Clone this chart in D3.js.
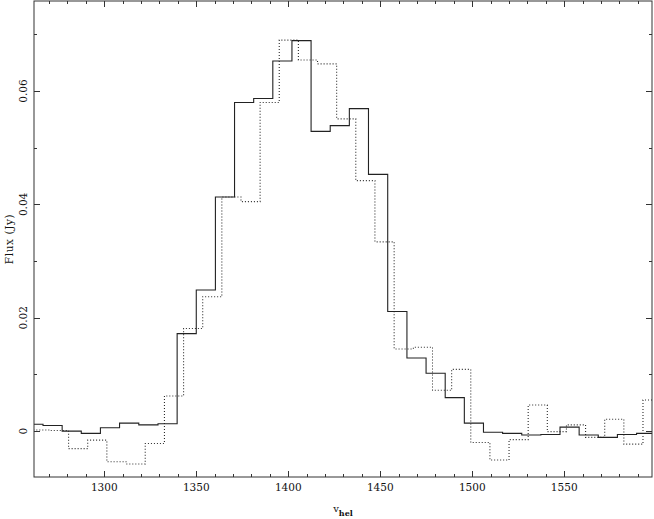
<!DOCTYPE html>
<html>
<head>
<meta charset="utf-8">
<script src="https://cdn.jsdelivr.net/npm/d3@7"></script>
<style>
  body { margin: 0; background: #fff; }
  svg { display: block; }
  text { font-family: "DejaVu Serif", serif; fill: #111; }
</style>
</head>
<body>
<script>
// channel centres (km/s) and flux (Jy)
const solidVel = [1261.5, 1271.9, 1282.3, 1292.7, 1303.1, 1313.5, 1324.0, 1334.4, 1344.8, 1355.2,
  1365.6, 1376.0, 1386.4, 1396.8, 1407.2, 1417.6, 1428.0, 1438.4, 1448.8, 1459.3,
  1469.7, 1480.1, 1490.5, 1500.9, 1511.3, 1521.7, 1532.1, 1542.5, 1552.9, 1563.3,
  1573.7, 1584.1, 1594.5];
const solidFlux = [0.0012, 0.0010, 0.0000, -0.0004, 0.0006, 0.0014, 0.0011, 0.0013, 0.0172, 0.0249,
  0.0413, 0.0580, 0.0587, 0.0653, 0.0689, 0.0529, 0.0539, 0.0569, 0.0453, 0.0211,
  0.0129, 0.0102, 0.0059, 0.0014, -0.0002, -0.0004, -0.0007, -0.0006, 0.0007, -0.0007,
  -0.0011, -0.0006, -0.0004];

const dottedVel = [1265.0, 1275.4, 1285.8, 1296.2, 1306.6, 1317.0, 1327.5, 1337.9, 1348.3, 1358.7,
  1369.1, 1379.5, 1389.9, 1400.3, 1410.7, 1421.1, 1431.5, 1441.9, 1452.3, 1462.8,
  1473.2, 1483.6, 1494.0, 1504.4, 1514.8, 1525.2, 1535.6, 1546.0, 1556.4, 1566.8,
  1577.2, 1587.6, 1598.0];
const dottedFlux = [0.0002, 0.0001, -0.0031, -0.0016, -0.0054, -0.0058, -0.0022, 0.0062, 0.0181, 0.0237,
  0.0413, 0.0405, 0.0580, 0.0690, 0.0655, 0.0648, 0.0551, 0.0442, 0.0334, 0.0145,
  0.0148, 0.0072, 0.0109, -0.0020, -0.0051, -0.0015, 0.0046, -0.0001, 0.0011, -0.0011,
  0.0021, -0.0023, 0.0055];

const xMajor = [1300, 1350, 1400, 1450, 1500, 1550];
const xMinor = [1270, 1280, 1290, 1310, 1320, 1330, 1340, 1360, 1370, 1380, 1390, 1410, 1420, 1430,
  1440, 1460, 1470, 1480, 1490, 1510, 1520, 1530, 1540, 1560, 1570, 1580, 1590];
const yMajor = [0, 0.02, 0.04, 0.06];
const yMinor = [0.01, 0.03, 0.05, 0.07];

const width = 654, height = 519;
const mLeft = 34, mRight = 652, mTop = 1, mBottom = 477;

const x = d3.scaleLinear().domain([1261.8, 1597.7]).range([mLeft, mRight]);
const y = d3.scaleLinear().domain([-0.0081, 0.0759]).range([mBottom, mTop]);

const svg = d3.select("body").append("svg")
  .attr("width", width)
  .attr("height", height);

svg.append("clipPath").attr("id", "clip")
  .append("rect")
  .attr("x", mLeft).attr("y", mTop)
  .attr("width", mRight - mLeft).attr("height", mBottom - mTop);

// turn channel centres into step points (edges halfway between centres)
function steps(vel, flux) {
  const pts = [];
  vel.forEach((v, i) => {
    const lo = i > 0 ? (v + vel[i - 1]) / 2 : v - (vel[1] - vel[0]) / 2;
    const hi = i < vel.length - 1 ? (v + vel[i + 1]) / 2 : v + (v - vel[i - 1]) / 2;
    pts.push([lo, flux[i]], [hi, flux[i]]);
  });
  return pts;
}

const line = d3.line().x(d => x(d[0])).y(d => y(d[1]));

const g = svg.append("g").attr("clip-path", "url(#clip)");

g.append("path")
  .attr("d", line(steps(dottedVel, dottedFlux)))
  .attr("fill", "none")
  .attr("stroke", "#2a2a2a")
  .attr("stroke-width", 1.1)
  .attr("stroke-dasharray", "1,2");

g.append("path")
  .attr("d", line(steps(solidVel, solidFlux)))
  .attr("fill", "none")
  .attr("stroke", "#222")
  .attr("stroke-width", 1.1);

// axes: ticks point inward on all four sides
const axes = svg.append("g").attr("stroke", "#333").attr("stroke-width", 1);

axes.append("rect")
  .attr("x", mLeft).attr("y", mTop)
  .attr("width", mRight - mLeft).attr("height", mBottom - mTop)
  .attr("fill", "none");

function xTicks(vals, len) {
  vals.forEach(v => {
    const px = Math.round(x(v)) + 0.5;
    axes.append("line").attr("x1", px).attr("x2", px).attr("y1", mBottom).attr("y2", mBottom - len);
    axes.append("line").attr("x1", px).attr("x2", px).attr("y1", mTop).attr("y2", mTop + len);
  });
}
function yTicks(vals, len) {
  vals.forEach(v => {
    const py = Math.round(y(v)) + 0.5;
    axes.append("line").attr("x1", mLeft).attr("x2", mLeft + len).attr("y1", py).attr("y2", py);
    axes.append("line").attr("x1", mRight).attr("x2", mRight - len).attr("y1", py).attr("y2", py);
  });
}
xTicks(xMajor, 6);
xTicks(xMinor, 3);
yTicks(yMajor, 6);
yTicks(yMinor, 3);

svg.selectAll(".xlab").data(xMajor).join("text")
  .attr("class", "xlab")
  .attr("x", d => x(d))
  .attr("y", 491)
  .attr("text-anchor", "middle")
  .attr("font-size", 10.5)
  .text(d => d);

svg.selectAll(".ylab").data(yMajor).join("text")
  .attr("class", "ylab")
  .attr("transform", d => `translate(27,${y(d)}) rotate(-90)`)
  .attr("text-anchor", "middle")
  .attr("font-size", 10.5)
  .text(d => d === 0 ? "0" : d3.format(".2f")(d));

svg.append("text")
  .attr("transform", `translate(13,${(mTop + mBottom) / 2}) rotate(-90)`)
  .attr("text-anchor", "middle")
  .attr("font-size", 10.5)
  .attr("letter-spacing", 0.6)
  .text("Flux (Jy)");

const xt = svg.append("text")
  .attr("x", (mLeft + mRight) / 2)
  .attr("y", 511.5)
  .attr("text-anchor", "middle")
  .attr("font-size", 10);
xt.append("tspan").text("v");
xt.append("tspan").attr("dy", 4).attr("font-size", 8).attr("font-weight", "bold").text("hel");
</script>
</body>
</html>
